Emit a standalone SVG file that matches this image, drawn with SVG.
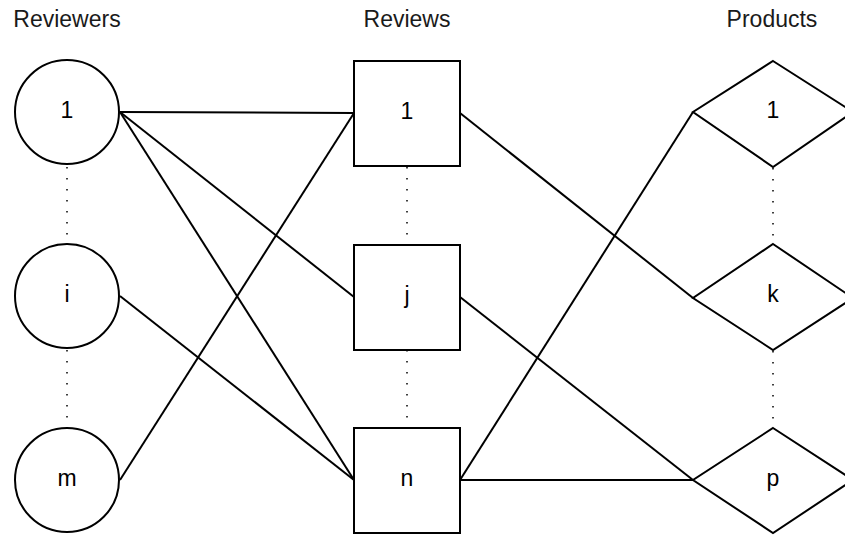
<svg xmlns="http://www.w3.org/2000/svg" width="845" height="535" viewBox="0 0 845 535">
<style>
.n{fill:#fff;stroke:#000;stroke-width:2}
.t{font-family:"Liberation Sans",Arial,sans-serif;font-size:23px;fill:#000;text-anchor:middle}
.h{font-family:"Liberation Sans",Arial,sans-serif;font-size:23px;fill:#1a1a1a;text-anchor:middle}
.c{stroke:#000;stroke-width:2;fill:none}
.d{stroke:#000;stroke-width:1.5;fill:none;stroke-dasharray:1.5 9.5}
</style>
<rect width="845" height="535" fill="#fff"/>
<g id="headers">
<text class="h" x="67" y="27">Reviewers</text>
<text class="h" x="407" y="27">Reviews</text>
<text class="h" x="772" y="27">Products</text>
</g>
<g id="dots">
<line class="d" x1="67" y1="167" x2="67" y2="244"/>
<line class="d" x1="67" y1="350" x2="67" y2="428"/>
<line class="d" x1="407" y1="167" x2="407" y2="244"/>
<line class="d" x1="407" y1="350" x2="407" y2="428"/>
<line class="d" x1="773" y1="168" x2="773" y2="244"/>
<line class="d" x1="773" y1="351" x2="773" y2="428"/>
</g>
<g id="connectors">
<line class="c" x1="120" y1="112" x2="354" y2="113"/>
<line class="c" x1="120" y1="112" x2="354" y2="297"/>
<line class="c" x1="120" y1="112" x2="354" y2="480"/>
<line class="c" x1="120" y1="296" x2="354" y2="480"/>
<line class="c" x1="120" y1="480" x2="354" y2="113"/>
<line class="c" x1="460" y1="113" x2="693" y2="298"/>
<line class="c" x1="460" y1="297" x2="693" y2="480"/>
<line class="c" x1="460" y1="480" x2="693" y2="112"/>
<line class="c" x1="460" y1="480" x2="693" y2="480"/>
</g>
<g id="reviewer-1"><circle class="n" cx="67" cy="112" r="52"/><text class="t" x="67" y="118">1</text></g>
<g id="reviewer-i"><circle class="n" cx="67" cy="296" r="52"/><text class="t" x="67" y="302">i</text></g>
<g id="reviewer-m"><circle class="n" cx="67" cy="480" r="52"/><text class="t" x="67" y="486">m</text></g>
<g id="review-1"><rect class="n" x="354" y="61" width="106" height="105"/><text class="t" x="407" y="119">1</text></g>
<g id="review-j"><rect class="n" x="354" y="245" width="106" height="105"/><text class="t" x="407" y="303">j</text></g>
<g id="review-n"><rect class="n" x="354" y="428" width="106" height="105"/><text class="t" x="407" y="486">n</text></g>
<g id="product-1"><polygon class="n" points="773,61 853,112 773,167 693,112"/><text class="t" x="773" y="118">1</text></g>
<g id="product-k"><polygon class="n" points="773,244 853,298 773,350 693,298"/><text class="t" x="773" y="302">k</text></g>
<g id="product-p"><polygon class="n" points="773,428 853,480 773,533 693,480"/><text class="t" x="773" y="486">p</text></g>
</svg>
